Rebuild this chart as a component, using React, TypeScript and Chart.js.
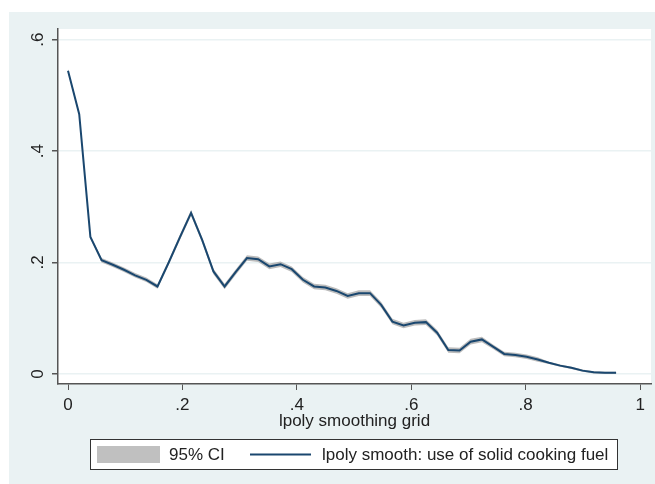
import React, { useEffect, useRef } from "react";
import { Chart, registerables } from "chart.js";

Chart.register(...registerables);

const gridX = [0, 0.0196, 0.0391, 0.0587, 0.0782, 0.0978, 0.1173, 0.1369, 0.1564, 0.176, 0.1955, 0.2151, 0.2346, 0.2542, 0.2737, 0.2933, 0.3128, 0.3324, 0.3519, 0.3715, 0.391, 0.4106, 0.4301, 0.4497, 0.4692, 0.4888, 0.5083, 0.5279, 0.5474, 0.567, 0.5865, 0.6061, 0.6256, 0.6452, 0.6647, 0.6843, 0.7038, 0.7234, 0.7429, 0.7625, 0.782, 0.8016, 0.8211, 0.8407, 0.8602, 0.8798, 0.8993, 0.9189, 0.9384, 0.958];
const smoothY = [0.544, 0.466, 0.246, 0.204, 0.196, 0.187, 0.177, 0.169, 0.157, 0.2, 0.245, 0.289, 0.24, 0.184, 0.157, 0.183, 0.208, 0.206, 0.193, 0.197, 0.188, 0.169, 0.157, 0.155, 0.149, 0.14, 0.145, 0.145, 0.124, 0.094, 0.087, 0.092, 0.093, 0.074, 0.043, 0.042, 0.058, 0.062, 0.049, 0.036, 0.034, 0.031, 0.026, 0.02, 0.015, 0.011, 0.006, 0.003, 0.002, 0.002];
const ciLow = [0.541, 0.463, 0.243, 0.2, 0.192, 0.183, 0.173, 0.165, 0.153, 0.196, 0.24, 0.284, 0.235, 0.179, 0.152, 0.178, 0.203, 0.201, 0.188, 0.192, 0.183, 0.164, 0.152, 0.15, 0.144, 0.135, 0.14, 0.14, 0.119, 0.089, 0.082, 0.087, 0.088, 0.069, 0.038, 0.037, 0.053, 0.057, 0.045, 0.032, 0.03, 0.027, 0.022, 0.018, 0.013, 0.009, 0.004, 0.001, 0.0, 0.0];
const ciHigh = [0.547, 0.469, 0.249, 0.208, 0.2, 0.191, 0.181, 0.173, 0.161, 0.204, 0.25, 0.294, 0.245, 0.189, 0.162, 0.188, 0.213, 0.211, 0.198, 0.202, 0.193, 0.174, 0.162, 0.16, 0.154, 0.145, 0.15, 0.15, 0.129, 0.099, 0.092, 0.097, 0.098, 0.079, 0.048, 0.047, 0.063, 0.067, 0.053, 0.04, 0.038, 0.035, 0.03, 0.022, 0.017, 0.013, 0.008, 0.005, 0.004, 0.004];
const xTicks = [0, 0.2, 0.4, 0.6, 0.8, 1];
const xTickLabels = ["0", ".2", ".4", ".6", ".8", "1"];
const yTicks = [0, 0.2, 0.4, 0.6];
const yTickLabels = ["0", ".2", ".4", ".6"];
const xTitle = "lpoly smoothing grid";
const legendCI = "95% CI";
const legendLine = "lpoly smooth: use of solid cooking fuel";

const W = 655;
const H = 484;
const FONT = '"Liberation Sans", Arial, sans-serif';
const BG = "#eaf2f3";
const LINE = "#1a476f";
const AXIS = "#555555";

export default function App() {
  const ref = useRef<HTMLCanvasElement | null>(null);
  useEffect(() => {
    if (!ref.current) return;
    const decor = {
      id: "decor",
      beforeDraw(chart: any) {
        const ctx = chart.ctx;
        const a = chart.chartArea;
        ctx.save();
        ctx.fillStyle = "#ffffff";
        ctx.fillRect(0, 0, W, H);
        ctx.fillStyle = BG;
        ctx.fillRect(9, 12, W - 9, H - 12);
        ctx.fillStyle = "#ffffff";
        ctx.fillRect(a.left, a.top, a.right - a.left, a.bottom - a.top);
        ctx.restore();
      },
      afterDraw(chart: any) {
        const ctx = chart.ctx;
        const a = chart.chartArea;
        const xs = chart.scales.x;
        const ys = chart.scales.y;
        ctx.save();
        ctx.fillStyle = "#222222";
        ctx.font = "17px " + FONT;
        ctx.textAlign = "center";
        ctx.textBaseline = "middle";
        xTicks.forEach((v, i) => {
          ctx.fillText(xTickLabels[i], xs.getPixelForValue(v), 405);
        });
        yTicks.forEach((v, i) => {
          const py = ys.getPixelForValue(v);
          ctx.save();
          ctx.translate(38, py);
          ctx.rotate(-Math.PI / 2);
          ctx.fillText(yTickLabels[i], 0, 0);
          ctx.restore();
        });
        ctx.fillText(xTitle, (a.left + a.right) / 2, 421);
        // legend
        ctx.fillStyle = "#ffffff";
        ctx.fillRect(90, 439, 528, 30);
        ctx.strokeStyle = "#333333";
        ctx.lineWidth = 1;
        ctx.strokeRect(90.5, 439.5, 527, 30);
        ctx.fillStyle = "#c0c0c0";
        ctx.fillRect(97, 446, 63, 17);
        ctx.fillStyle = "#222222";
        ctx.textAlign = "left";
        ctx.fillText(legendCI, 169, 455);
        ctx.strokeStyle = LINE;
        ctx.lineWidth = 2;
        ctx.beginPath();
        ctx.moveTo(250, 454.5);
        ctx.lineTo(311, 454.5);
        ctx.stroke();
        ctx.fillText(legendLine, 322, 455);
        ctx.restore();
      },
    };
    const chart = new Chart(ref.current, {
      type: "line",
      data: {
        datasets: [
          {
            label: legendLine,
            data: gridX.map((x, i) => ({ x, y: smoothY[i] })),
            borderColor: LINE,
            borderWidth: 2,
            pointRadius: 0,
            tension: 0,
            fill: false,
          },
          {
            label: legendCI,
            data: gridX.map((x, i) => ({ x, y: ciHigh[i] })),
            borderWidth: 0,
            borderColor: "rgba(0,0,0,0)",
            backgroundColor: "rgba(165,165,165,0.75)",
            pointRadius: 0,
            tension: 0,
            fill: "+1",
          },
          {
            label: "ciLow",
            data: gridX.map((x, i) => ({ x, y: ciLow[i] })),
            borderWidth: 0,
            borderColor: "rgba(0,0,0,0)",
            pointRadius: 0,
            tension: 0,
            fill: false,
          },
        ],
      },
      options: {
        animation: false,
        responsive: false,
        layout: { padding: { left: 0, top: 29, right: 4, bottom: 0 } },
        plugins: { legend: { display: false }, tooltip: { enabled: false } },
        scales: {
          x: {
            type: "linear",
            min: -0.0175,
            max: 1.019,
            afterFit: (s: any) => {
              s.height = 100;
            },
            afterBuildTicks: (s: any) => {
              s.ticks = xTicks.map((v) => ({ value: v }));
            },
            ticks: { display: false },
            grid: {
              display: true,
              drawOnChartArea: false,
              drawTicks: true,
              tickLength: 6,
              tickColor: AXIS,
              color: AXIS,
            },
            border: { display: true, color: AXIS, width: 1.5 },
          },
          y: {
            type: "linear",
            min: -0.018,
            max: 0.619,
            afterFit: (s: any) => {
              s.width = 58;
            },
            afterBuildTicks: (s: any) => {
              s.ticks = yTicks.map((v) => ({ value: v }));
            },
            ticks: { display: false },
            grid: {
              display: true,
              drawOnChartArea: true,
              drawTicks: true,
              tickLength: 6,
              tickColor: AXIS,
              color: BG,
              lineWidth: 1.5,
            },
            border: { display: true, color: AXIS, width: 1.5 },
          },
        },
      },
      plugins: [decor],
    });
    return () => chart.destroy();
  }, []);
  return (
    <div style={{ position: "absolute", left: 0, top: 0, width: W, height: H }}>
      <canvas ref={ref} width={W} height={H} style={{ width: W, height: H, display: "block" }} />
    </div>
  );
}
